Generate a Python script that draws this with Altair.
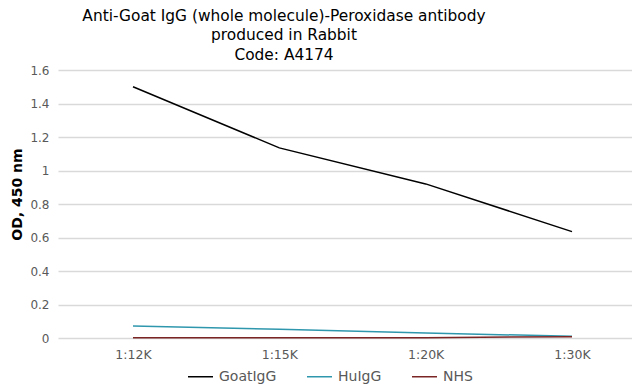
import altair as alt
import pandas as pd

dilutions = ["1:12K", "1:15K", "1:20K", "1:30K"]
goat_igg = [1.50, 1.135, 0.92, 0.635]
hu_igg = [0.072, 0.052, 0.030, 0.010]
nhs = [0.002, 0.002, 0.002, 0.008]
series = ["GoatIgG", "HuIgG", "NHS"]
colors = ["#000000", "#2f97ad", "#7b2525"]

rows = []
for name, vals in zip(series, [goat_igg, hu_igg, nhs]):
    for i, (d, v) in enumerate(zip(dilutions, vals)):
        rows.append({"dilution": d, "pos": i, "series": name, "od": v})
df = pd.DataFrame(rows)

FONT = "DejaVu Sans"
label_js = "[" + ",".join("'" + d + "'" for d in dilutions) + "][datum.value]"

chart = alt.Chart(df).mark_line(strokeWidth=1.5).encode(
    x=alt.X("pos:Q", scale=alt.Scale(domain=[-0.5125, 3.41], nice=False, zero=False),
            axis=alt.Axis(title=None, values=list(range(len(dilutions))), labelExpr=label_js,
                          labelAngle=0, labelColor="#595959", labelFontSize=12.5,
                          labelFont=FONT, ticks=False, domain=False, grid=False, labelPadding=10,
                          labelFlush=False, labelOverlap=False)),
    y=alt.Y("od:Q", scale=alt.Scale(domain=[0, 1.6]),
            axis=alt.Axis(title="OD, 450 nm", values=[0, 0.2, 0.4, 0.6, 0.8, 1, 1.2, 1.4, 1.6],
                          labelExpr="datum.value == 1 ? '1' : datum.value == 0 ? '0' : format(datum.value, '.1f')",
                          labelColor="#595959", labelFontSize=12, labelFont=FONT,
                          titleFont=FONT, titleFontSize=14, titleFontWeight="bold", titleColor="#000000",
                          titlePadding=5, titleY=124, ticks=False, domain=False, gridColor="#d9d9d9",
                          gridWidth=1.5, labelPadding=9)),
    color=alt.Color("series:N", sort=series,
                    scale=alt.Scale(domain=series, range=colors),
                    legend=alt.Legend(title=None, orient="none", legendX=129, legendY=293,
                                      direction="horizontal", padding=0,
                                      symbolType="stroke", symbolSize=625, symbolStrokeWidth=1.5,
                                      labelFont=FONT, labelFontSize=14, labelColor="#595959",
                                      labelOffset=5, columnPadding=27)),
    order="pos:Q",
).properties(
    width=574, height=268,
    autosize=alt.AutoSizeParams(type="none"),
    padding={"left": 50, "top": 62, "right": 0, "bottom": 48},
    title=alt.TitleParams(
        text=["Anti-Goat IgG (whole molecule)-Peroxidase antibody", "produced in Rabbit", "Code: A4174"],
        font=FONT, fontSize=15.4, fontWeight="normal", color="#000000", lineHeight=19.5,
        anchor="middle", offset=1, dx=-61,
    ),
).configure_view(stroke=None)

chart.save("out.html", embed_options={"renderer": "svg", "actions": False})
